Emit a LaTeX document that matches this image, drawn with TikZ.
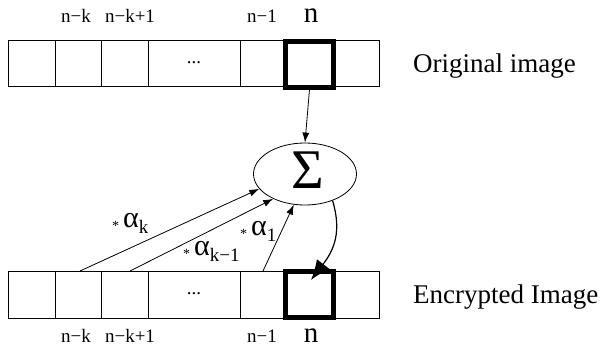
\documentclass[tikz,border=0pt]{standalone}
\usepackage{fontspec}
\setmainfont{Liberation Serif}
\usetikzlibrary{arrows.meta,shapes.geometric}
\newcommand{\fs}[1]{\fontsize{#1}{#1}\selectfont}
\newcommand{\alab}[1]{{\fs{14}\raisebox{-3pt}{*}}\hspace{4pt}{\fs{30}α}\raisebox{-6pt}{\fs{19}#1}}
\tikzset{
  cell/.style={draw, line width=0.8pt, minimum height=46, inner sep=0, outer sep=0},
  thick/.style={draw, line width=5pt, minimum width=48, minimum height=46, inner sep=0},
  idx/.style={anchor=base, font=\fs{19}, inner sep=0},
  bign/.style={anchor=base, font=\fs{29}, inner sep=0},
  title/.style={anchor=base west, font=\fs{27}, inner sep=0},
  alpha/.style={anchor=base west, inner sep=0},
  thin/.style={line width=0.8pt, -{Latex[length=10pt,width=7pt]}},
}
\begin{document}
\begin{tikzpicture}[x=1pt,y=-1pt]
\useasboundingbox (0,0) rectangle (603,349);
% top row
\draw[line width=0.8pt] (8,40) rectangle (379,86);
\foreach \x in {55,101,148,240,334} \draw[line width=0.8pt] (\x,40) -- (\x,86);
\node (tdots) at (194,63) {\fs{19}...};
\node[thick] (tn) at (309.5,64) {};
% bottom row
\draw[line width=0.8pt] (8,271) rectangle (379,318);
\foreach \x in {55,101,148,240,334} \draw[line width=0.8pt] (\x,271) -- (\x,318);
\node (bdots) at (194,294) {\fs{19}...};
\node[thick] (bn) at (309.5,294.5) {};
% labels
\node[idx] (l1) at (76,22) {n−k};
\node[idx] (l2) at (130,22) {n−k+1};
\node[idx] (l3) at (262,22) {n−1};
\node[bign] (l4) at (311,22) {n};
\node[idx] (m1) at (76,342) {n−k};
\node[idx] (m2) at (130,342) {n−k+1};
\node[idx] (m3) at (262,342) {n−1};
\node[bign] (m4) at (311,342) {n};
\node[title] (orig) at (413,72) {Original image};
\node[title] (enc) at (413,303) {Encrypted Image};
% sigma
\node[draw, ellipse, line width=0.8pt, minimum width=103, minimum height=62, inner sep=0] (sig) at (305,174) {};
\node at (308,170) {\fs{56}Σ};
% arrows
\draw[thin] (tn.south) -- (sig.north);
\coordinate (s1) at (80,271);
\coordinate (s2) at (130,271);
\coordinate (s3) at (263,271);
\draw[thin] (s1) -- (sig.198);
\draw[thin] (s2) -- (sig.218);
\draw[thin] (s3) -- (sig.250);
\coordinate (tip) at (311,280);
\draw[line width=1.2pt, -{Latex[length=20pt,width=16pt]}] (sig.316) .. controls (342,232) and (334,250) .. (tip);
% alpha labels
\node[alpha] (a1) at (112,227) {\alab{k}};
\node[alpha] (a2) at (183,255) {\alab{k−1}};
\node[alpha] (a3) at (240,235) {\alab{1}};
\end{tikzpicture}
\end{document}
